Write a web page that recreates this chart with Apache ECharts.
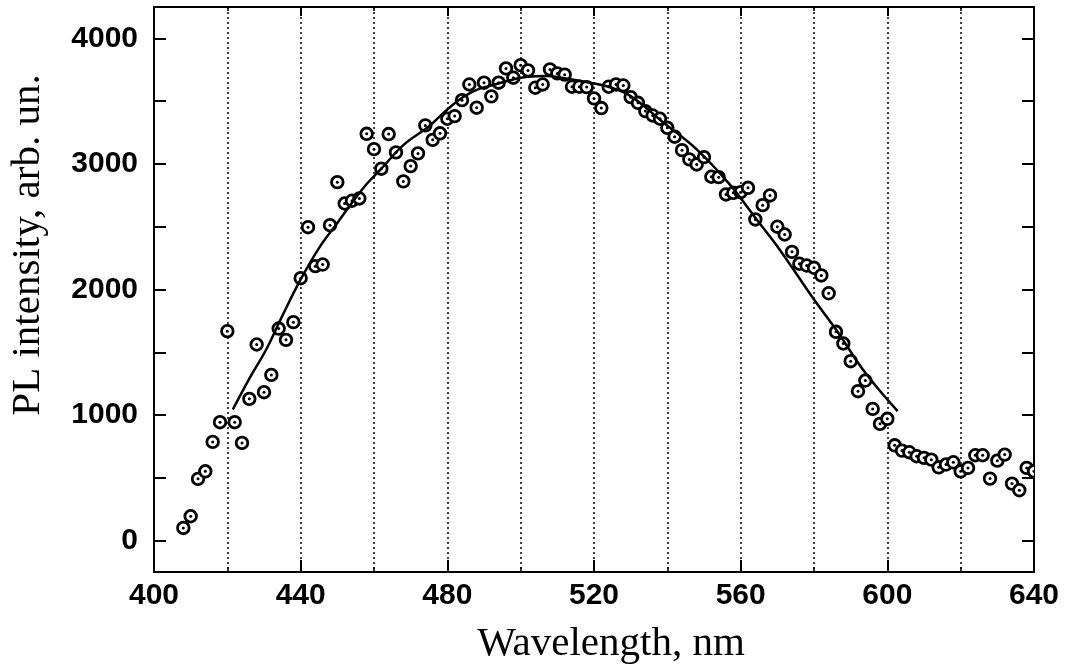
<!DOCTYPE html>
<html>
<head>
<meta charset="utf-8">
<script src="https://cdn.jsdelivr.net/npm/echarts@6/dist/echarts.min.js"></script>
<style>
html,body{margin:0;padding:0;background:#fff;}
#chart{width:1068px;height:670px;}
</style>
</head>
<body>
<div id="chart"></div>
<script>
// Measured PL points (wavelength nm, intensity arb. un.)
const wavelengths = [408,410,412,414,416,418,420,422,424,426,428,430,432,434,436,438,440,442,444,446,448,450,452,454,456,458,460,462,464,466,468,470,472,474,476,478,480,482,484,486,488,490,492,494,496,498,500,502,504,506,508,510,512,514,516,518,520,522,524,526,528,530,532,534,536,538,540,542,544,546,548,550,552,554,556,558,560,562,564,566,568,570,572,574,576,578,580,582,584,586,588,590,592,594,596,598,600,602,604,606,608,610,612,614,616,618,620,622,624,626,628,630,632,634,636,638,640];
const intensities = [101,194,492,552,786,943,1668,943,778,1129,1562,1182,1320,1689,1599,1740,2090,2496,2186,2199,2512,2855,2685,2707,2725,3240,3118,2962,3238,3092,2861,2983,3084,3307,3192,3244,3360,3381,3508,3633,3448,3647,3538,3647,3761,3687,3787,3745,3607,3633,3753,3721,3711,3615,3615,3612,3522,3445,3615,3633,3625,3532,3487,3421,3386,3360,3288,3217,3110,3036,2996,3054,2898,2895,2757,2770,2775,2810,2558,2672,2749,2500,2438,2300,2205,2191,2173,2112,1970,1663,1570,1429,1190,1275,1049,930,970,759,717,704,672,659,645,584,606,624,552,579,680,680,494,637,685,454,401,579,552];

// Fitted curve
const fitX = [421.5,426,430.6,435,440,445,450,454,458,462,468,475,480,484,488,493,498,502,507,511.5,519,524,530,539,548,557,564,570.6,580,586,594,602.8];
const fitY = [1044,1290,1522,1790,2080,2330,2530,2690,2840,2962,3150,3300,3434,3527,3590,3633,3673,3695,3700,3685,3647,3615,3540,3328,3116,2837,2571,2319,1920,1681,1336,1031];

// Axis tick values
const xTickInterval = 40;
const yTickValues = [0,500,1000,1500,2000,2500,3000,3500,4000];
const yLabelValues = [0,1000,2000,3000,4000];

const pointData = wavelengths.map((w, i) => [w, intensities[i]]);
const fitData = fitX.map((w, i) => [w, fitY[i]]);

const labelFont = {fontFamily: 'Liberation Sans, Arial, sans-serif', fontWeight: 'bold', fontSize: 30, color: '#000'};
const dotted = {color: '#000', width: 1.5, type: [2, 3]};
const plain = v => String(v);

const chart = echarts.init(document.getElementById('chart'), null, {renderer: 'canvas'});
chart.setOption({
  animation: false,
  backgroundColor: '#fff',
  grid: {left: 154, right: 34, top: 7, bottom: 98, containLabel: false},
  xAxis: [{
    type: 'value', min: 400, max: 640, interval: xTickInterval, position: 'bottom',
    axisLine: {show: true, onZero: false, lineStyle: {color: '#000', width: 2}},
    axisTick: {show: true, inside: true, length: 12, lineStyle: {color: '#000', width: 2}},
    minorTick: {show: true, splitNumber: 2, length: 5, lineStyle: {color: '#000', width: 1.5}},
    axisLabel: Object.assign({margin: 9, formatter: plain}, labelFont),
    splitLine: {show: true, lineStyle: dotted},
    minorSplitLine: {show: true, lineStyle: dotted}
  }, {
    type: 'value', min: 400, max: 640, interval: xTickInterval, position: 'top',
    axisLine: {show: true, onZero: false, lineStyle: {color: '#000', width: 2}},
    axisTick: {show: true, inside: true, length: 9, lineStyle: {color: '#000', width: 2}},
    minorTick: {show: true, splitNumber: 2, length: 4, lineStyle: {color: '#000', width: 1.5}},
    axisLabel: {show: false},
    splitLine: {show: false}
  }],
  yAxis: [{
    type: 'value', min: -250, max: 4250, position: 'left',
    axisLine: {show: true, onZero: false, lineStyle: {color: '#000', width: 2}},
    axisTick: {show: true, inside: true, length: 12, customValues: yTickValues, lineStyle: {color: '#000', width: 2}},
    axisLabel: Object.assign({margin: 16, customValues: yLabelValues, formatter: plain}, labelFont),
    splitLine: {show: false}
  }, {
    type: 'value', min: -250, max: 4250, position: 'right',
    axisLine: {show: true, onZero: false, lineStyle: {color: '#000', width: 2}},
    axisTick: {show: true, inside: true, length: 12, customValues: yTickValues, lineStyle: {color: '#000', width: 2}},
    axisLabel: {show: false},
    splitLine: {show: false}
  }],
  series: [{
    type: 'custom',
    xAxisIndex: 0, yAxisIndex: 0,
    clip: true,
    data: pointData,
    z: 3,
    renderItem: function (params, api) {
      const p = api.coord([api.value(0), api.value(1)]);
      return {
        type: 'group',
        children: [
          {type: 'circle', shape: {cx: p[0], cy: p[1], r: 5.8}, style: {fill: '#fff', stroke: '#000', lineWidth: 2.8}},
          {type: 'circle', shape: {cx: p[0], cy: p[1], r: 1.5}, style: {fill: '#000'}}
        ]
      };
    }
  }, {
    type: 'line',
    xAxisIndex: 0, yAxisIndex: 0,
    data: fitData,
    smooth: 0.4,
    showSymbol: false,
    symbol: 'none',
    z: 4,
    lineStyle: {color: '#000', width: 2.5}
  }],
  graphic: [{
    type: 'text',
    x: 611, y: 644,
    style: {text: 'Wavelength, nm', fontFamily: 'Liberation Serif, Times New Roman, serif', fontSize: 41, fill: '#000', align: 'center', verticalAlign: 'middle'}
  }, {
    type: 'text',
    x: 28, y: 245,
    rotation: Math.PI / 2,
    style: {text: 'PL intensity, arb. un.', fontFamily: 'Liberation Serif, Times New Roman, serif', fontSize: 41, fill: '#000', align: 'center', verticalAlign: 'middle'}
  }]
});
</script>
</body>
</html>
